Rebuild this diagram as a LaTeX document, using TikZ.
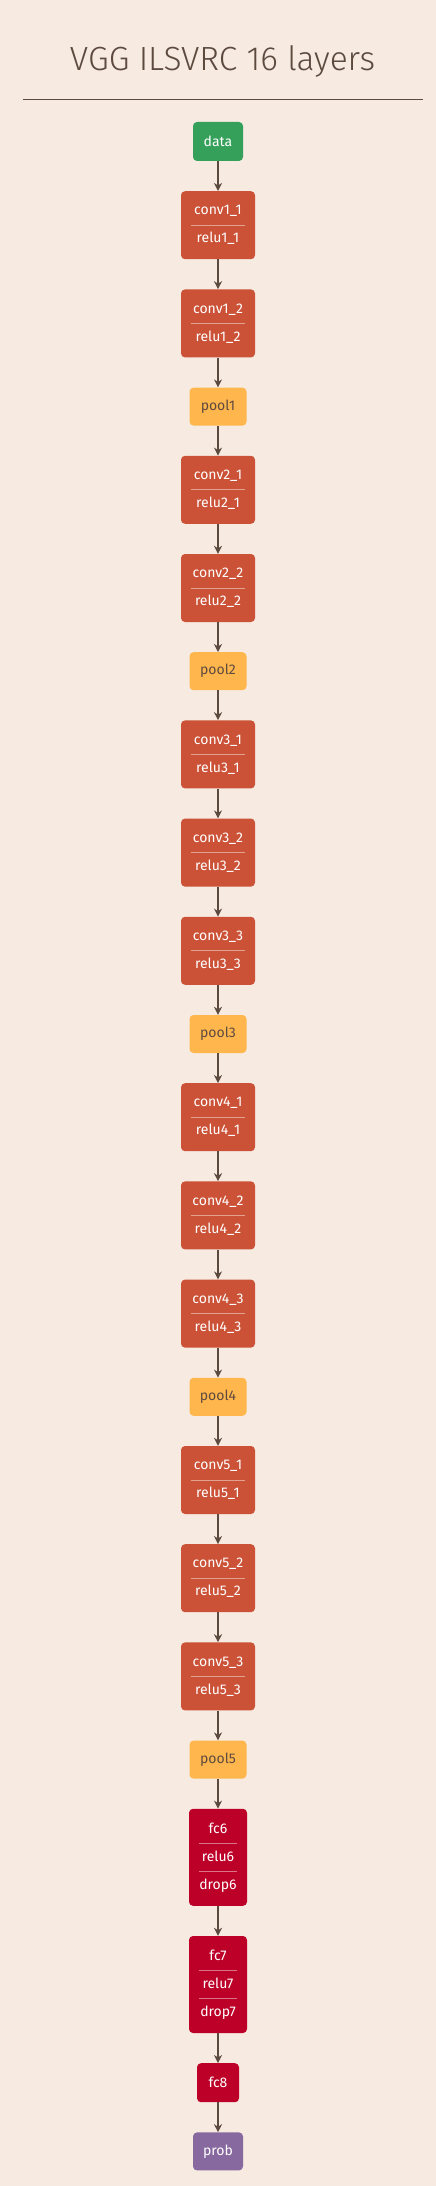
\documentclass[tikz,border=0pt]{standalone}
\usepackage{fontspec}
\setmainfont{Fira Sans}
\newfontfamily\titlefont{Fira Sans Light}
\usetikzlibrary{arrows.meta}

\definecolor{bgcol}{HTML}{F6EAE1}
\definecolor{inkcol}{HTML}{5D4A3F}
\definecolor{datacol}{HTML}{35A05A}
\definecolor{convcol}{HTML}{CB5237}
\definecolor{poolcol}{HTML}{FFB74D}
\definecolor{fccol}{HTML}{BD0028}
\definecolor{probcol}{HTML}{87699F}

\begin{document}
\begin{tikzpicture}[x=1pt,y=-1pt,
  layer/.style={rounded corners=4pt, inner sep=0pt, text=white, align=center,
    font=\fontsize{14}{28}\selectfont},
  datalayer/.style={layer, fill=datacol, minimum width=50pt, minimum height=39pt},
  convlayer/.style={layer, fill=convcol, minimum width=74pt, minimum height=68pt},
  poollayer/.style={layer, fill=poolcol, text=inkcol, minimum width=57pt, minimum height=38pt},
  fclayer/.style={layer, fill=fccol, minimum width=58pt, minimum height=97pt},
  fcsmall/.style={layer, fill=fccol, minimum width=42pt, minimum height=39pt},
  problayer/.style={layer, fill=probcol, minimum width=50pt, minimum height=38pt},
  sep/.style={draw=white, draw opacity=0.45, line width=0.8pt},
  flow/.style={draw=inkcol, line width=1.4pt, -{Stealth[length=8pt,width=8pt,inset=2.5pt]}}]

\fill[bgcol] (0,0) rectangle (436,2186);
\useasboundingbox (0,0) rectangle (436,2186);

% title
\node[anchor=base, text=inkcol, font=\titlefont\fontsize{33.5}{40}\selectfont] (title) at (222.5,71) {VGG ILSVRC 16 layers};
\draw[inkcol, line width=0.8pt] (23,99) -- (423,99);

% layers
\node[datalayer] (data) at (218,141.5) {data};

\node[convlayer] (c11) at (218,225.2) {conv1\_1\\relu1\_1};
\node[convlayer] (c12) at (218,323.4) {conv1\_2\\relu1\_2};
\node[poollayer] (p1) at (218,406.6) {pool1};

\node[convlayer] (c21) at (218,489.8) {conv2\_1\\relu2\_1};
\node[convlayer] (c22) at (218,588) {conv2\_2\\relu2\_2};
\node[poollayer] (p2) at (218,671.2) {pool2};

\node[convlayer] (c31) at (218,754.4) {conv3\_1\\relu3\_1};
\node[convlayer] (c32) at (218,852.6) {conv3\_2\\relu3\_2};
\node[convlayer] (c33) at (218,950.8) {conv3\_3\\relu3\_3};
\node[poollayer] (p3) at (218,1034) {pool3};

\node[convlayer] (c41) at (218,1117.2) {conv4\_1\\relu4\_1};
\node[convlayer] (c42) at (218,1215.4) {conv4\_2\\relu4\_2};
\node[convlayer] (c43) at (218,1313.6) {conv4\_3\\relu4\_3};
\node[poollayer] (p4) at (218,1396.8) {pool4};

\node[convlayer] (c51) at (218,1480) {conv5\_1\\relu5\_1};
\node[convlayer] (c52) at (218,1578.2) {conv5\_2\\relu5\_2};
\node[convlayer] (c53) at (218,1676.4) {conv5\_3\\relu5\_3};
\node[poollayer] (p5) at (218,1759.6) {pool5};

\node[fclayer] (f6) at (218,1857.3) {fc6\\relu6\\drop6};
\node[fclayer] (f7) at (218,1984.5) {fc7\\relu7\\drop7};
\node[fcsmall] (f8) at (218,2082.7) {fc8};
\node[problayer] (prob) at (218,2151.4) {prob};

% separators
\draw[sep] ([xshift=10pt]c11.west) -- ([xshift=-10pt]c11.east);
\draw[sep] ([xshift=10pt]c12.west) -- ([xshift=-10pt]c12.east);
\draw[sep] ([xshift=10pt]c21.west) -- ([xshift=-10pt]c21.east);
\draw[sep] ([xshift=10pt]c22.west) -- ([xshift=-10pt]c22.east);
\draw[sep] ([xshift=10pt]c31.west) -- ([xshift=-10pt]c31.east);
\draw[sep] ([xshift=10pt]c32.west) -- ([xshift=-10pt]c32.east);
\draw[sep] ([xshift=10pt]c33.west) -- ([xshift=-10pt]c33.east);
\draw[sep] ([xshift=10pt]c41.west) -- ([xshift=-10pt]c41.east);
\draw[sep] ([xshift=10pt]c42.west) -- ([xshift=-10pt]c42.east);
\draw[sep] ([xshift=10pt]c43.west) -- ([xshift=-10pt]c43.east);
\draw[sep] ([xshift=10pt]c51.west) -- ([xshift=-10pt]c51.east);
\draw[sep] ([xshift=10pt]c52.west) -- ([xshift=-10pt]c52.east);
\draw[sep] ([xshift=10pt]c53.west) -- ([xshift=-10pt]c53.east);
\draw[sep] ([xshift=10pt,yshift=14.3pt]f6.west) -- ([xshift=-10pt,yshift=14.3pt]f6.east);
\draw[sep] ([xshift=10pt,yshift=-14.3pt]f6.west) -- ([xshift=-10pt,yshift=-14.3pt]f6.east);
\draw[sep] ([xshift=10pt,yshift=14.3pt]f7.west) -- ([xshift=-10pt,yshift=14.3pt]f7.east);
\draw[sep] ([xshift=10pt,yshift=-14.3pt]f7.west) -- ([xshift=-10pt,yshift=-14.3pt]f7.east);

% connectors
\draw[flow] (data) -- (c11);
\draw[flow] (c11) -- (c12);
\draw[flow] (c12) -- (p1);
\draw[flow] (p1) -- (c21);
\draw[flow] (c21) -- (c22);
\draw[flow] (c22) -- (p2);
\draw[flow] (p2) -- (c31);
\draw[flow] (c31) -- (c32);
\draw[flow] (c32) -- (c33);
\draw[flow] (c33) -- (p3);
\draw[flow] (p3) -- (c41);
\draw[flow] (c41) -- (c42);
\draw[flow] (c42) -- (c43);
\draw[flow] (c43) -- (p4);
\draw[flow] (p4) -- (c51);
\draw[flow] (c51) -- (c52);
\draw[flow] (c52) -- (c53);
\draw[flow] (c53) -- (p5);
\draw[flow] (p5) -- (f6);
\draw[flow] (f6) -- (f7);
\draw[flow] (f7) -- (f8);
\draw[flow] (f8) -- (prob);
\end{tikzpicture}
\end{document}
